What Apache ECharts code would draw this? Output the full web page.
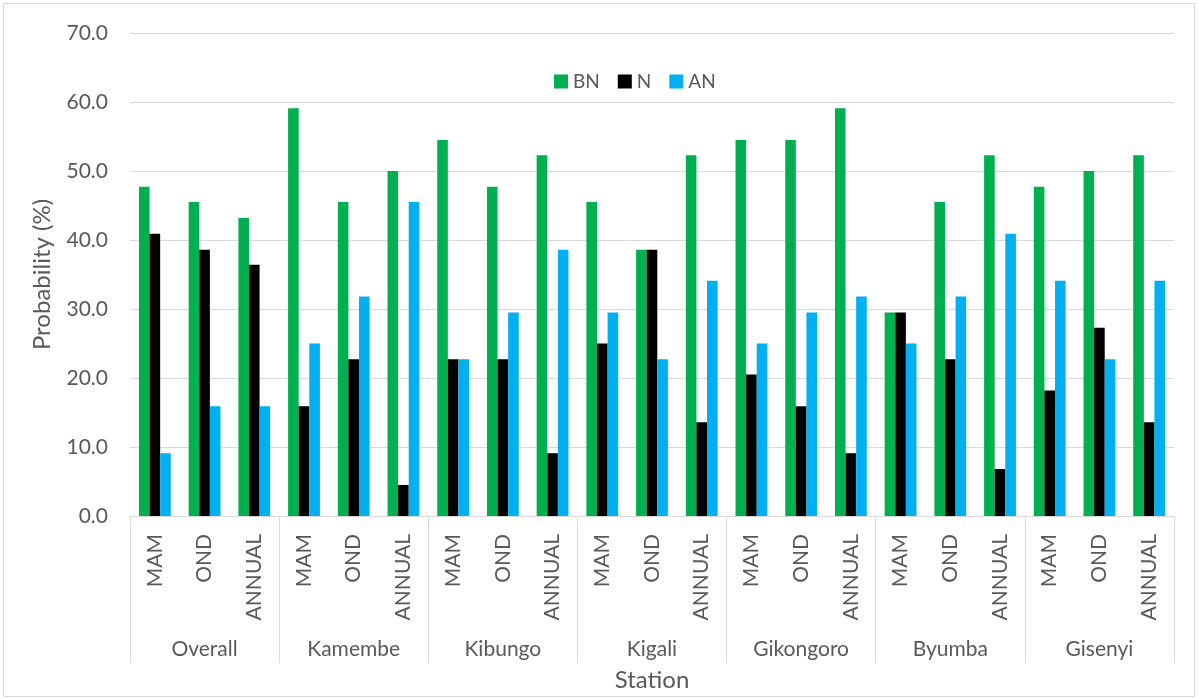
<!DOCTYPE html>
<html>
<head>
<meta charset="utf-8">
<script src="https://cdn.jsdelivr.net/npm/echarts@6/dist/echarts.min.js"></script>
<style>
  html, body { margin: 0; padding: 0; background: #ffffff; }
  #chart { width: 1198px; height: 699px; }
</style>
</head>
<body>
<div id="chart"></div>
<script>
// Stations (outer category level) and periods (inner level)
const stations = ['Overall', 'Kamembe', 'Kibungo', 'Kigali', 'Gikongoro', 'Byumba', 'Gisenyi'];
const periods = ['MAM', 'OND', 'ANNUAL'];

// Probability (%) of each tercile, in station order, MAM / OND / ANNUAL
const bn = [47.7, 45.5, 43.2, 59.1, 45.5, 50.0, 54.5, 47.7, 52.3, 45.5, 38.6, 52.3,
            54.5, 54.5, 59.1, 29.5, 45.5, 52.3, 47.7, 50.0, 52.3];
const n  = [40.9, 38.6, 36.4, 15.9, 22.7, 4.5, 22.7, 22.7, 9.1, 25.0, 38.6, 13.6,
            20.5, 15.9, 9.1, 29.5, 22.7, 6.8, 18.2, 27.3, 13.6];
const an = [9.1, 15.9, 15.9, 25.0, 31.8, 45.5, 22.7, 29.5, 38.6, 29.5, 22.7, 34.1,
            25.0, 29.5, 31.8, 25.0, 31.8, 40.9, 34.1, 22.7, 34.1];

const yTicks = { min: 0, max: 70, interval: 10 };

// inner axis labels: one period label per bar group
const innerCats = [];
stations.forEach(() => periods.forEach(p => innerCats.push(p)));

const FONT = 'Lato';
const TXT = '#595959';
const GRID = '#d9d9d9';

const chart = echarts.init(document.getElementById('chart'));
const barW = 10.6;

chart.setOption({
  animation: false,
  textStyle: { fontFamily: FONT },
  graphic: [{
    type: 'rect',
    shape: { x: 3.5, y: 3.5, width: 1191, height: 693 },
    style: { fill: 'none', stroke: GRID, lineWidth: 1 },
    silent: true
  }],
  legend: {
    left: 549,
    top: 67,
    itemWidth: 14,
    itemHeight: 14,
    itemGap: 18,
    icon: 'rect',
    textStyle: { color: TXT, fontSize: 19, fontFamily: FONT },
    data: ['BN', 'N', 'AN']
  },
  grid: { left: 130, right: 24, top: 33, bottom: 183 },
  xAxis: [{
    type: 'category',
    data: innerCats,
    position: 'bottom',
    axisLine: { show: true, lineStyle: { color: GRID, width: 1 } },
    axisTick: { show: false },
    axisLabel: {
      rotate: 90,
      interval: 0,
      margin: 18,
      color: TXT,
      fontSize: 21,
      fontFamily: FONT
    }
  }, {
    type: 'category',
    data: stations,
    position: 'bottom',
    axisLine: { show: false },
    axisTick: { show: true, length: 147, lineStyle: { color: GRID, width: 1 } },
    axisLabel: {
      interval: 0,
      margin: 123,
      color: TXT,
      fontSize: 21,
      fontFamily: FONT
    },
    name: 'Station',
    nameLocation: 'middle',
    nameGap: 152,
    nameTextStyle: { color: TXT, fontSize: 24, fontFamily: FONT }
  }],
  yAxis: {
    type: 'value',
    min: yTicks.min,
    max: yTicks.max,
    interval: yTicks.interval,
    axisLine: { show: false },
    axisTick: { show: false },
    splitLine: { lineStyle: { color: GRID, width: 1 } },
    axisLabel: {
      margin: 22,
      color: TXT,
      fontSize: 21,
      fontFamily: FONT,
      formatter: v => v.toFixed(1)
    },
    name: 'Probability (%)',
    nameLocation: 'middle',
    nameRotate: 90,
    nameGap: 76,
    nameTextStyle: { color: TXT, fontSize: 24, fontFamily: FONT }
  },
  series: [
    { name: 'BN', type: 'bar', data: bn, barWidth: barW, barGap: '0%', itemStyle: { color: '#00B050' } },
    { name: 'N',  type: 'bar', data: n,  barWidth: barW, barGap: '0%', itemStyle: { color: '#000000' } },
    { name: 'AN', type: 'bar', data: an, barWidth: barW, barGap: '0%', itemStyle: { color: '#00B0F0' } }
  ]
});
</script>
</body>
</html>
